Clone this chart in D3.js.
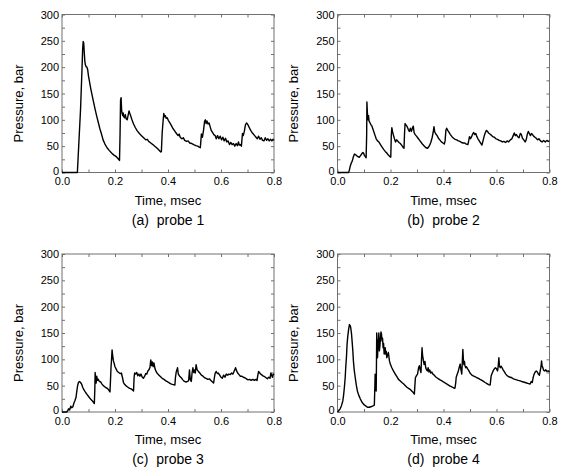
<!DOCTYPE html>
<meta charset="utf-8">
<style>
  body { margin: 0; background: #fff; }
  svg { font-family: "Liberation Sans", Arial, sans-serif; }
  .frame { fill: none; stroke: #707070; stroke-width: 1; }
  .axis path { display: none; }
  .axis line { stroke: #707070; }
  .axis text { font-size: 11px; fill: #000; }
  .trace { fill: none; stroke: #000; stroke-width: 1.4; stroke-linejoin: round; }
  .title { font-size: 13px; fill: #000; }
  .caption { font-size: 14px; fill: #000; white-space: pre; }
</style>

<div class="chart"></div>

<script src="https://cdn.jsdelivr.net/npm/d3@7"></script>

<script>
var xTicks = [0, 0.2, 0.4, 0.6, 0.8];
var yTicks = [0, 50, 100, 150, 200, 250, 300];
var xTitle = "Time, msec";
var yTitle = "Pressure, bar";
var captions = ["(a)  probe 1", "(b)  probe 2", "(c)  probe 3", "(d)  probe 4"];

// [time (msec), pressure (bar)]
var probe1 = [[0,0],[0.058,0],[0.064,60],[0.070,120],[0.075,190],[0.078,235],[0.080,249],[0.082,246],[0.084,228],[0.086,212],[0.088,205],[0.091,201],[0.094,200],[0.097,195],[0.100,183],[0.104,172],[0.109,158],[0.114,146],[0.119,134],[0.125,120],[0.131,107],[0.137,95],[0.143,83],[0.149,73],[0.155,62],[0.162,54],[0.170,47],[0.178,42],[0.187,37],[0.196,33],[0.205,30],[0.212,26],[0.217,23],[0.219,70],[0.221,138],[0.223,142],[0.225,118],[0.227,112],[0.229,108],[0.231,113],[0.233,106],[0.236,104],[0.239,110],[0.242,102],[0.246,100],[0.250,110],[0.253,117],[0.256,112],[0.259,108],[0.264,100],[0.270,92],[0.277,85],[0.284,79],[0.292,74],[0.300,70],[0.308,66],[0.316,62],[0.322,63],[0.327,59],[0.335,56],[0.343,53],[0.350,50],[0.357,47],[0.363,44],[0.369,41],[0.373,39],[0.375,40],[0.378,75],[0.381,95],[0.384,112],[0.387,106],[0.390,108],[0.393,103],[0.397,104],[0.401,99],[0.406,95],[0.412,90],[0.418,84],[0.425,79],[0.432,74],[0.438,70],[0.442,73],[0.446,67],[0.452,64],[0.458,66],[0.463,61],[0.470,59],[0.476,60],[0.482,56],[0.490,55],[0.497,53],[0.505,51],[0.512,50],[0.518,48],[0.522,47],[0.524,60],[0.526,73],[0.530,67],[0.534,80],[0.538,97],[0.541,100],[0.544,93],[0.547,98],[0.551,92],[0.555,94],[0.559,87],[0.563,80],[0.568,76],[0.573,72],[0.578,70],[0.582,64],[0.587,70],[0.592,64],[0.597,69],[0.602,62],[0.607,67],[0.612,60],[0.617,65],[0.622,58],[0.627,60],[0.632,53],[0.637,57],[0.642,53],[0.647,55],[0.652,50],[0.657,55],[0.662,51],[0.666,58],[0.669,52],[0.673,53],[0.677,50],[0.679,62],[0.681,74],[0.684,70],[0.688,78],[0.692,90],[0.696,94],[0.700,92],[0.704,88],[0.708,84],[0.712,80],[0.717,76],[0.722,73],[0.727,70],[0.732,67],[0.737,64],[0.742,69],[0.747,63],[0.752,66],[0.757,61],[0.762,60],[0.767,66],[0.772,61],[0.777,64],[0.782,60],[0.787,63],[0.792,60],[0.796,63],[0.800,61]];

var probe2 = [[0,0],[0.042,0],[0.045,5],[0.048,12],[0.052,18],[0.056,22],[0.060,30],[0.064,35],[0.068,34],[0.072,32],[0.077,30],[0.082,29],[0.087,32],[0.092,36],[0.096,38],[0.099,36],[0.102,32],[0.105,30],[0.108,28],[0.110,70],[0.111,134],[0.113,112],[0.115,100],[0.117,108],[0.119,98],[0.122,95],[0.126,91],[0.130,88],[0.134,82],[0.138,76],[0.142,70],[0.146,64],[0.151,60],[0.156,58],[0.161,54],[0.167,49],[0.174,44],[0.180,40],[0.186,37],[0.192,33],[0.198,30],[0.201,29],[0.203,70],[0.205,85],[0.208,77],[0.211,71],[0.215,64],[0.219,58],[0.223,62],[0.227,60],[0.232,57],[0.237,55],[0.242,52],[0.247,48],[0.251,46],[0.253,75],[0.255,93],[0.259,90],[0.263,87],[0.267,82],[0.271,78],[0.275,84],[0.279,78],[0.283,85],[0.286,88],[0.289,76],[0.293,72],[0.298,69],[0.304,65],[0.310,61],[0.316,57],[0.322,53],[0.328,50],[0.334,47],[0.340,46],[0.346,50],[0.352,57],[0.357,66],[0.361,76],[0.364,87],[0.367,77],[0.371,73],[0.376,70],[0.381,65],[0.386,62],[0.392,58],[0.398,56],[0.403,54],[0.406,60],[0.409,80],[0.412,84],[0.416,80],[0.421,76],[0.426,72],[0.432,68],[0.438,65],[0.444,63],[0.450,62],[0.456,60],[0.462,59],[0.468,57],[0.474,56],[0.480,56],[0.486,54],[0.492,53],[0.495,60],[0.498,68],[0.502,64],[0.506,68],[0.510,73],[0.514,76],[0.518,72],[0.522,74],[0.526,68],[0.530,64],[0.535,60],[0.540,56],[0.545,52],[0.550,62],[0.554,70],[0.558,76],[0.562,80],[0.566,78],[0.570,75],[0.575,73],[0.580,71],[0.586,68],[0.592,67],[0.598,64],[0.604,63],[0.610,61],[0.616,60],[0.622,58],[0.628,59],[0.634,57],[0.640,60],[0.646,58],[0.652,62],[0.658,64],[0.663,70],[0.667,75],[0.671,70],[0.675,72],[0.680,68],[0.685,66],[0.690,74],[0.694,72],[0.698,65],[0.703,62],[0.708,58],[0.712,62],[0.716,72],[0.720,78],[0.724,74],[0.728,70],[0.732,74],[0.736,72],[0.740,69],[0.745,67],[0.750,65],[0.755,62],[0.760,64],[0.766,60],[0.772,58],[0.778,61],[0.784,58],[0.790,61],[0.795,59],[0.800,60]];

var probe3 = [[0,0],[0.018,0],[0.022,3],[0.025,6],[0.029,4],[0.033,11],[0.037,8],[0.041,10],[0.045,17],[0.049,22],[0.053,28],[0.056,40],[0.059,50],[0.062,56],[0.066,58],[0.070,56],[0.074,53],[0.078,47],[0.083,42],[0.089,37],[0.095,33],[0.101,29],[0.107,25],[0.113,22],[0.118,19],[0.122,16],[0.124,45],[0.125,75],[0.127,62],[0.129,55],[0.131,68],[0.134,60],[0.137,62],[0.141,58],[0.146,57],[0.151,53],[0.156,50],[0.161,48],[0.166,46],[0.171,45],[0.176,42],[0.181,38],[0.183,60],[0.185,85],[0.187,100],[0.189,118],[0.191,108],[0.194,97],[0.197,92],[0.200,86],[0.204,82],[0.209,77],[0.214,75],[0.219,73],[0.224,74],[0.228,66],[0.232,56],[0.237,52],[0.243,49],[0.249,47],[0.255,45],[0.261,44],[0.266,42],[0.270,40],[0.272,65],[0.274,74],[0.278,72],[0.282,75],[0.286,69],[0.290,72],[0.294,68],[0.298,72],[0.302,67],[0.307,64],[0.312,68],[0.316,73],[0.320,72],[0.324,78],[0.328,80],[0.332,85],[0.335,99],[0.338,88],[0.341,95],[0.344,86],[0.347,93],[0.351,82],[0.355,77],[0.360,73],[0.366,70],[0.372,67],[0.378,64],[0.385,62],[0.392,59],[0.399,57],[0.406,55],[0.413,53],[0.420,52],[0.426,51],[0.428,65],[0.431,76],[0.434,80],[0.436,84],[0.439,72],[0.444,68],[0.450,65],[0.456,61],[0.462,58],[0.468,57],[0.474,58],[0.478,60],[0.481,80],[0.484,62],[0.488,58],[0.491,75],[0.494,84],[0.497,75],[0.500,80],[0.503,74],[0.506,90],[0.510,80],[0.515,77],[0.520,74],[0.526,70],[0.532,68],[0.538,65],[0.544,64],[0.550,62],[0.556,63],[0.562,60],[0.568,57],[0.572,55],[0.575,65],[0.578,74],[0.582,77],[0.586,73],[0.590,74],[0.595,70],[0.600,66],[0.605,64],[0.610,70],[0.615,66],[0.620,72],[0.625,70],[0.630,72],[0.635,71],[0.640,74],[0.645,72],[0.650,78],[0.655,84],[0.659,78],[0.663,74],[0.668,71],[0.673,68],[0.678,68],[0.684,66],[0.690,65],[0.696,63],[0.702,61],[0.708,62],[0.714,60],[0.720,62],[0.726,60],[0.732,62],[0.736,60],[0.739,70],[0.742,77],[0.746,74],[0.750,72],[0.755,70],[0.760,68],[0.765,67],[0.770,65],[0.775,63],[0.780,66],[0.785,64],[0.788,74],[0.791,70],[0.794,66],[0.797,72],[0.800,70]];

var probe4 = [[0,0],[0.004,2],[0.010,6],[0.015,12],[0.020,21],[0.023,32],[0.026,47],[0.029,65],[0.031,84],[0.034,106],[0.036,128],[0.039,145],[0.042,157],[0.045,166],[0.048,164],[0.050,160],[0.053,148],[0.055,135],[0.058,115],[0.060,97],[0.063,80],[0.067,65],[0.071,51],[0.075,40],[0.080,32],[0.086,25],[0.092,19],[0.098,15],[0.105,12],[0.113,9],[0.120,9],[0.126,10],[0.132,11],[0.136,12],[0.139,13],[0.141,50],[0.142,72],[0.144,60],[0.146,40],[0.147,90],[0.148,150],[0.150,120],[0.151,103],[0.153,128],[0.155,140],[0.156,150],[0.158,116],[0.160,125],[0.162,140],[0.164,152],[0.166,148],[0.168,135],[0.170,140],[0.172,122],[0.174,130],[0.176,110],[0.178,118],[0.180,122],[0.182,110],[0.184,115],[0.186,103],[0.189,108],[0.192,113],[0.194,105],[0.196,97],[0.200,90],[0.205,84],[0.211,78],[0.218,72],[0.224,67],[0.230,62],[0.237,59],[0.243,56],[0.250,53],[0.256,50],[0.262,47],[0.268,45],[0.274,43],[0.280,40],[0.286,37],[0.290,34],[0.292,50],[0.294,65],[0.298,69],[0.302,72],[0.306,84],[0.309,88],[0.312,80],[0.315,75],[0.317,100],[0.319,122],[0.321,108],[0.324,98],[0.327,90],[0.330,96],[0.333,84],[0.336,80],[0.339,78],[0.342,84],[0.345,76],[0.348,80],[0.352,74],[0.356,76],[0.360,72],[0.365,70],[0.370,67],[0.375,65],[0.381,63],[0.387,61],[0.394,59],[0.400,57],[0.407,55],[0.413,53],[0.419,51],[0.425,49],[0.431,48],[0.437,46],[0.443,45],[0.446,55],[0.448,66],[0.452,72],[0.456,78],[0.460,86],[0.463,91],[0.466,80],[0.469,72],[0.471,95],[0.473,119],[0.475,100],[0.477,90],[0.479,96],[0.481,88],[0.484,84],[0.487,86],[0.491,82],[0.495,79],[0.500,74],[0.507,70],[0.514,68],[0.520,67],[0.526,65],[0.532,64],[0.538,62],[0.545,60],[0.551,58],[0.557,56],[0.564,54],[0.570,52],[0.576,51],[0.578,60],[0.580,69],[0.584,74],[0.588,79],[0.592,82],[0.596,84],[0.600,82],[0.604,78],[0.606,85],[0.609,103],[0.611,88],[0.614,84],[0.617,87],[0.620,85],[0.625,80],[0.630,76],[0.635,72],[0.640,69],[0.646,67],[0.652,66],[0.658,65],[0.664,63],[0.670,62],[0.676,61],[0.682,60],[0.689,59],[0.695,58],[0.702,57],[0.708,56],[0.714,55],[0.721,54],[0.727,53],[0.731,58],[0.735,56],[0.738,65],[0.742,72],[0.746,76],[0.750,78],[0.754,76],[0.758,72],[0.762,70],[0.765,78],[0.768,86],[0.770,97],[0.772,88],[0.775,84],[0.778,79],[0.782,78],[0.786,80],[0.790,77],[0.795,78],[0.800,76]];

var probes = [probe1, probe2, probe3, probe4];

var plotW = 212, plotH = 158;
// panel origins; bottom row titles sit a little lower than the top row
var panels = [
  {left: 62, top: 14.5, timeY: 200, capY: 220},
  {left: 337.5, top: 14.5, timeY: 200, capY: 220},
  {left: 62, top: 254, timeY: 439, capY: 459},
  {left: 337.5, top: 254, timeY: 439, capY: 459}
];

var svg = d3.select('.chart')
    .append('svg')
    .attr('width', 565)
    .attr('height', 469);

var x = d3.scaleLinear().domain([0, 0.8]).range([0, plotW]);
var y = d3.scaleLinear().domain([0, 300]).range([plotH, 0]);

var xMinor = d3.range(0, 9).map((i) => i / 10);
var yMinor = d3.range(0, 13).map((i) => i * 25);
var isMajorX = (d) => xTicks.some((t) => Math.abs(t - d) < 1e-6);
var isMajorY = (d) => yTicks.indexOf(d) >= 0;

var line = d3.line()
    .x((d) => x(d[0]))
    .y((d) => y(d[1]));

panels.forEach((p, i) => {
  var g = svg.append('g')
      .attr('transform', 'translate(' + p.left + ',' + p.top + ')');

  g.append('g')
      .attr('class', 'axis')
      .attr('transform', 'translate(0,' + plotH + ')')
      .call(d3.axisBottom(x).tickValues(xMinor).tickSizeInner(-3).tickSizeOuter(0).tickPadding(5)
        .tickFormat((d) => isMajorX(d) ? d3.format('.1f')(d) : ''));

  g.append('g')
      .attr('class', 'axis')
      .call(d3.axisTop(x).tickValues(xMinor).tickSizeInner(-3).tickSizeOuter(0).tickFormat(''));

  var yAxis = g.append('g')
      .attr('class', 'axis')
      .call(d3.axisLeft(y).tickValues(yMinor).tickSizeInner(-3).tickSizeOuter(0).tickPadding(3)
        .tickFormat((d) => isMajorY(d) ? d : ''));
  // the zero label sits a bit above the axis line, clear of "0.0"
  yAxis.selectAll('text').filter((d) => d === 0).attr('y', -2);

  g.append('g')
      .attr('class', 'axis')
      .attr('transform', 'translate(' + plotW + ',0)')
      .call(d3.axisRight(y).tickValues(yMinor).tickSizeInner(-3).tickSizeOuter(0).tickFormat(''));

  g.append('rect')
      .attr('class', 'frame')
      .attr('width', plotW)
      .attr('height', plotH);

  g.append('path')
      .datum(probes[i])
      .attr('class', 'trace')
      .attr('d', line);

  svg.append('text')
      .attr('class', 'title')
      .attr('text-anchor', 'middle')
      .attr('x', p.left + plotW / 2)
      .attr('y', p.timeY)
      .attr('dy', '0.35em')
      .text(xTitle);

  svg.append('text')
      .attr('class', 'caption')
      .attr('text-anchor', 'middle')
      .attr('x', p.left + plotW / 2)
      .attr('y', p.capY)
      .attr('dy', '0.35em')
      .text(captions[i]);

  svg.append('text')
      .attr('class', 'title')
      .attr('text-anchor', 'middle')
      .attr('transform', 'translate(' + (p.left - 44) + ',' + (p.top + 89) + ') rotate(-90)')
      .attr('dy', '0.35em')
      .text(yTitle);
});
</script>
